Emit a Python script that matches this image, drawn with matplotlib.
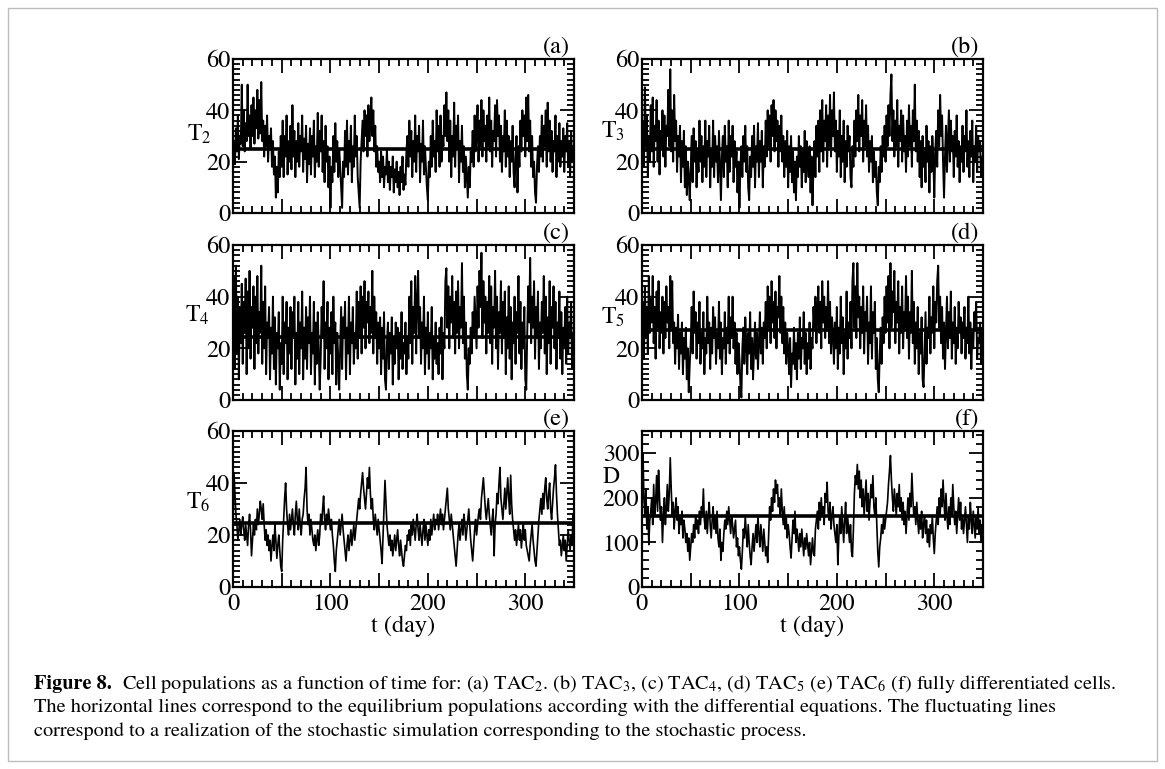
import numpy as np
import matplotlib
matplotlib.use("Agg")
import matplotlib.pyplot as plt
from matplotlib.ticker import MultipleLocator
from matplotlib.patches import Rectangle

plt.rcParams['font.family'] = ['STIXGeneral', 'DejaVu Serif']
plt.rcParams['mathtext.fontset'] = 'stix'

# ---------------- data (one value per day) ----------------
T2 = [22,28,19,33,24,38,21,30,27,50, 26,40,24,35,28,50,30,38,25,42,
      30,45,27,40,33,48,29,44,31,51, 28,36,22,34,26,38,20,30,25,33,
      18,28,15,22,6,18,8,24,14,30, 18,36,14,30,22,38,15,28,20,34,
      17,42,22,32,14,28,20,35,18,30, 24,38,16,29,21,34,12,27,19,33,
      15,30,22,36,14,26,20,39,18,32, 24,38,16,28,12,34,20,26,10,22,
      2,18,12,30,16,35,20,28,14,25, 18,10,2,20,14,32,18,36,15,28,
      20,34,12,26,18,38,22,30,14,8, 2,20,28,36,24,40,30,38,22,42,
      28,36,45,30,40,24,34,18,26,16, 20,12,24,14,22,10,18,15,25,12,
      20,9,18,14,22,8,17,12,20,10, 16,7,18,12,22,9,15,11,24,30,
      18,36,22,32,14,28,20,38,16,30, 24,34,12,27,20,36,15,26,18,10,
      5,20,14,30,18,36,22,28,16,40, 24,34,18,38,20,30,26,42,30,47,
      28,40,20,36,14,30,22,43,18,34, 25,38,12,28,20,34,16,26,10,22,
      14,6,18,10,24,20,32,18,38,24, 30,42,20,36,26,44,22,40,28,34,
      20,38,26,45,24,36,18,32,28,42, 22,44,30,38,20,34,16,30,24,40,
      18,36,22,30,14,28,20,34,16,10, 22,30,8,26,18,36,24,40,30,38,
      22,45,28,46,24,36,18,30,14,20, 8,4,18,26,16,30,22,38,20,34,
      26,40,18,43,24,36,20,32,16,28, 24,38,14,30,20,35,18,28,22,33,
      16,30,24,35,18,28,14,32,20,26, 22]
T3 = [22,35,18,49,26,38,14,30,20,42, 24,45,18,34,28,44,20,36,15,32,
      26,40,22,38,18,34,30,48,26,56, 24,40,20,46,28,36,16,30,22,34,
      12,28,18,32,10,26,7,20,14,5, 18,30,12,33,20,28,10,24,16,36,
      20,30,12,26,18,36,14,28,22,34, 10,25,18,36,14,30,20,26,12,32,
      18,5,22,30,14,34,20,26,10,36, 16,30,22,34,12,28,18,24,8,20,
      2,18,26,14,30,20,34,16,26,10, 5,22,14,30,18,34,10,26,20,35,
      14,28,20,32,10,26,18,36,22,40, 26,38,20,42,30,44,24,40,28,36,
      18,34,24,38,20,30,14,28,18,32, 10,26,16,30,12,24,8,20,5,22,
      14,30,18,26,10,24,16,32,12,28, 20,14,26,8,22,3,18,28,14,34,
      22,36,16,40,24,44,20,36,28,42, 18,38,26,46,22,40,30,47,24,36,
      16,32,22,40,14,30,20,36,12,28, 18,34,24,30,14,10,26,18,36,22,
      40,28,46,24,38,30,44,20,36,26, 42,22,34,16,28,20,30,12,24,14,
      20,8,3,18,12,26,16,30,22,34, 20,38,26,42,30,46,54,28,40,22,
      36,26,44,18,34,28,40,20,38,24, 30,16,36,22,42,26,34,18,40,28,
      50,24,36,20,32,14,28,10,30,18, 24,12,34,20,28,8,26,16,30,22,
      6,24,32,18,40,26,46,30,38,20, 6,22,34,16,28,40,20,36,24,30,
      14,32,22,38,18,28,12,26,20,34, 16,30,24,40,18,28,14,32,22,36,
      12,26,20,34,16,30,24,28,14,22, 18]
T4 = [20,48,12,52,18,40,8,36,22,45, 14,38,26,47,10,42,20,50,16,36,
      28,44,12,40,22,48,18,34,26,52, 14,38,20,44,10,30,24,36,8,28,
      18,40,12,32,6,26,20,34,4,22, 14,40,10,30,22,38,8,28,18,36,
      12,34,24,40,6,26,16,38,10,30, 20,42,8,28,16,36,12,32,22,40,
      10,26,18,38,6,30,14,34,20,4, 16,36,24,46,12,30,20,38,8,28,
      18,34,10,40,22,30,6,26,16,4, 20,36,12,32,24,38,8,28,18,40,
      10,30,22,36,14,26,20,42,16,38, 24,44,18,40,28,46,20,38,30,42,
      22,36,26,50,18,40,24,34,14,30, 20,32,10,28,16,34,8,4,22,30,
      12,26,18,32,6,24,14,30,20,28, 8,26,16,34,12,22,18,30,10,24,
      16,40,22,46,14,36,26,48,18,38, 50,24,36,14,30,20,40,10,28,18,
      34,12,26,20,36,8,24,16,30,14, 22,10,28,18,32,8,26,20,46,51,
      28,44,20,40,30,48,24,38,18,42, 26,46,20,36,28,53,22,40,16,30,
      10,4,20,14,28,18,34,24,40,30, 20,44,28,50,36,57,24,46,30,40,
      18,38,26,48,22,44,14,36,28,50, 20,40,12,34,26,46,18,38,24,42,
      10,32,20,44,16,36,8,30,22,40, 14,34,26,48,18,38,12,30,20,36,
      8,4,26,44,30,55,22,40,28,46, 16,36,24,42,12,30,20,38,26,48,
      18,40,10,32,22,46,14,36,28,44, 20,38,12,30,24,42,16,34,10,28,
      20,36,14,40,18,30,24,38,12,26, 20]
T5 = [20,38,16,44,24,36,18,48,26,40, 30,48,22,36,16,42,28,46,20,34,
      26,40,18,38,24,44,30,36,20,48, 28,46,22,30,14,28,20,33,12,26,
      18,30,10,24,16,28,8,20,3,14, 22,36,18,42,26,34,16,30,22,38,
      14,26,20,34,10,24,18,40,22,30, 12,28,18,36,24,32,14,26,20,38,
      16,30,10,24,20,34,14,28,22,40, 18,32,24,40,20,30,14,26,10,22,
      16,6,1,20,28,14,32,22,10,26, 18,34,12,24,8,20,30,16,26,12,
      22,34,18,28,14,30,24,38,20,44, 28,40,22,46,30,38,24,42,20,36,
      32,48,26,40,22,36,18,30,14,26, 20,10,24,5,18,14,28,12,22,8,
      26,16,32,12,24,20,34,14,26,10, 22,16,30,12,24,20,36,28,40,22,
      34,44,26,38,20,46,30,40,24,36, 28,46,22,38,18,32,26,14,30,20,
      36,12,28,18,40,22,32,10,26,20, 42,16,30,24,38,20,46,53,28,44,
      24,53,32,40,20,36,26,44,18,34, 28,40,14,30,22,44,16,34,26,38,
      12,24,8,3,18,28,14,32,22,40, 26,44,30,48,20,53,28,42,34,50,
      22,38,30,46,18,36,26,44,20,34, 28,48,24,40,16,34,26,50,22,38,
      14,30,20,36,10,26,18,32,8,5, 20,34,14,28,24,40,18,32,26,44,
      20,38,30,46,52,28,40,22,36,16, 30,12,26,40,20,34,24,42,16,30,
      22,36,14,28,20,38,26,32,18,30, 24,36,16,28,22,40,18,30,12,26,
      20,34,28,38,16,24,22,30,14,26, 22]
T6 = [20,44,36,28,24,18,22,26,20,24, 27,22,18,24,20,16,24,28,22,12,
      18,24,20,26,22,30,24,28,33,30, 26,32,24,18,22,16,20,14,18,10,
      16,20,14,24,18,11,16,20,14,8, 6,18,26,34,40,30,24,20,28,22,
      26,30,24,20,28,33,26,22,30,24, 20,26,28,34,38,46,30,24,28,20,
      26,22,18,16,20,14,18,22,16,20, 28,24,30,35,26,22,28,24,30,26,
      22,26,20,16,10,6,14,18,22,26, 20,24,28,22,18,14,10,16,20,14,
      18,22,16,20,24,18,22,26,30,34, 30,36,40,44,38,34,30,36,42,38,
      46,36,30,34,26,22,28,24,20,26, 22,18,14,9,20,30,41,32,24,20,
      16,20,14,18,12,16,20,14,18,22, 16,12,18,14,10,8,12,16,14,20,
      18,22,16,24,20,26,22,18,24,28, 22,18,24,20,16,22,26,18,24,20,
      16,22,18,26,20,24,28,22,26,24, 28,22,26,30,24,28,22,26,30,34,
      38,30,26,22,28,24,20,16,12,8, 14,20,24,18,22,26,20,28,24,18,
      22,26,30,24,18,14,10,16,22,26, 20,24,28,30,26,34,38,42,36,30,
      26,30,34,28,24,20,26,30,12,24, 28,36,32,40,46,34,30,26,32,38,
      30,36,42,34,28,43,32,26,22,18, 22,16,20,24,18,22,15,20,24,18,
      22,16,14,12,10,16,20,24,18,14, 10,8,14,20,26,30,34,28,36,30,
      38,42,34,30,36,40,30,26,32,38, 42,47,36,28,22,16,18,12,16,20,
      14,18,10,16,22,18,14,20,16,28, 24]
D = [150,300,200,160,220,130,180,95,150,170, 200,140,230,160,190,250,170,262,200,150,
     180,100,160,200,140,180,230,170,210,290, 220,160,190,130,170,200,150,180,120,160,
     140,170,110,150,130,100,120,80,110,60, 90,120,100,140,110,160,130,150,120,170,
     140,180,160,220,150,130,170,120,160,190, 140,110,150,180,130,160,120,170,110,90,
     130,60,100,80,120,150,130,170,140,180, 150,120,160,140,110,130,150,90,110,70,
     90,60,40,80,130,110,160,120,90,140, 100,70,50,90,120,80,110,140,100,160,
     120,90,140,110,80,130,100,70,90,55, 120,180,150,200,170,220,190,240,210,230,
     180,200,160,220,170,140,180,130,160,110, 140,120,90,65,110,150,120,170,100,130,
     110,80,120,90,130,100,70,110,85,120, 95,70,100,50,80,110,75,70,130,150,
     170,130,190,150,200,160,180,140,210,190, 235,170,150,190,130,160,180,140,120,100,
     140,50,110,160,120,180,140,100,150,190, 120,160,130,100,140,80,68,130,210,250,
     230,275,220,260,200,240,180,220,160,200, 240,170,210,150,190,230,200,250,180,160,
     200,140,80,45,90,110,140,120,160,130, 150,170,190,230,260,295,240,200,170,220,
     190,160,210,180,230,170,200,150,190,140, 170,120,160,200,150,210,180,255,200,160,
     180,140,190,150,120,160,130,170,110,140, 160,120,150,100,130,90,140,120,160,110,
     75,120,150,180,140,200,160,220,180,240, 190,150,210,160,130,180,140,200,160,230,
     180,140,170,120,160,200,150,190,130,160, 120,150,180,140,100,160,130,190,150,120,
     170,140,110,160,130,180,120,150,100,140, 120]

series = [T2, T3, T4, T5, T6, D]
equilibrium = [25, 25, 24.5, 27, 24.5, 160]
ylabels = [r'T$_2$', r'T$_3$', r'T$_4$', r'T$_5$', r'T$_6$', 'D']
panel_tags = ['(a)', '(b)', '(c)', '(d)', '(e)', '(f)']
t_end = 350

# ---------------- layout ----------------
W, H = 1165, 769
fig = plt.figure(figsize=(W / 100, H / 100), dpi=100)
fig.patch.set_facecolor('white')

lefts = [233, 642]
width = 341
rows = [(59, 213), (245, 400), (431, 587)]
lab_pos = [(-0.135, 0.47), (-0.12, 0.49), (-0.14, 0.505),
           (-0.12, 0.495), (-0.138, 0.50), (-0.117, 0.668)]
line_w = [1.4, 1.4, 1.4, 1.4, 1.2, 1.2]

fs = 17.5
for i, vals in enumerate(series):
    r, c = divmod(i, 2)
    top, bot = rows[r]
    ax = fig.add_axes([lefts[c] / W, 1 - bot / H, width / W, (bot - top) / H])
    t = np.linspace(0, t_end, len(vals))
    ax.plot(t, vals, color='black', lw=line_w[i], zorder=2)
    ax.axhline(equilibrium[i], color='black', lw=2.6, zorder=3)
    ax.set_xlim(0, t_end)
    if i < 5:
        ax.set_ylim(0, 60)
        ax.set_yticks([0, 20, 40, 60])
        ax.yaxis.set_minor_locator(MultipleLocator(2))
    else:
        ax.set_ylim(0, 350)
        ax.set_yticks([0, 100, 200, 300, 350])
        ax.set_yticklabels(['0', '100', '200', '300', ''])
        ax.yaxis.set_minor_locator(MultipleLocator(20))
    ax.set_xticks([0, 50, 100, 150, 200, 250, 300, 350])
    ax.xaxis.set_minor_locator(MultipleLocator(10))
    if r == 2:
        ax.set_xticklabels(['0', '', '100', '', '200', '', '300', ''])
        ax.set_xlabel('t (day)', fontsize=fs, labelpad=0)
    else:
        ax.tick_params(axis='x', labelbottom=False)
    ax.tick_params(which='both', direction='in', top=True, right=True,
                   labelsize=fs, width=1.3, pad=2)
    ax.tick_params(which='major', length=10)
    ax.tick_params(which='minor', length=5)
    ax.tick_params(axis='x', pad=5)
    for s in ax.spines.values():
        s.set_linewidth(1.6)
    ax.text(lab_pos[i][0], lab_pos[i][1], ylabels[i], transform=ax.transAxes,
            fontsize=17, ha='left', va='baseline')
    ax.text(0.988, 1.005, panel_tags[i], transform=ax.transAxes,
            fontsize=fs, ha='right', va='bottom')

# ---------------- caption ----------------
cfs = 14.6
renderer = fig.canvas.get_renderer()
head = fig.text(34 / W, 1 - 684 / H, 'Figure 8.', fontsize=cfs, fontweight='bold',
                ha='left', va='center')
head_end = head.get_window_extent(renderer=renderer).x1
fig.text((head_end + 10) / W, 1 - 684 / H,
         'Cell populations as a function of time for: (a) TAC$_2$. (b) TAC$_3$, (c) TAC$_4$, '
         '(d) TAC$_5$ (e) TAC$_6$ (f) fully differentiated cells.',
         fontsize=cfs, ha='left', va='center')
fig.text(34 / W, 1 - 707 / H,
         'The horizontal lines correspond to the equilibrium populations according with the '
         'differential equations. The fluctuating lines',
         fontsize=cfs, ha='left', va='center')
fig.text(34 / W, 1 - 731 / H,
         'correspond to a realization of the stochastic simulation corresponding to the '
         'stochastic process.',
         fontsize=cfs, ha='left', va='center')

fig.add_artist(Rectangle((8 / W, 8 / H), 1 - 16 / W, 1 - 16 / H, transform=fig.transFigure,
                         fill=False, edgecolor='#bdbdbd', lw=1.0))

fig.savefig('out.png', dpi=100)
